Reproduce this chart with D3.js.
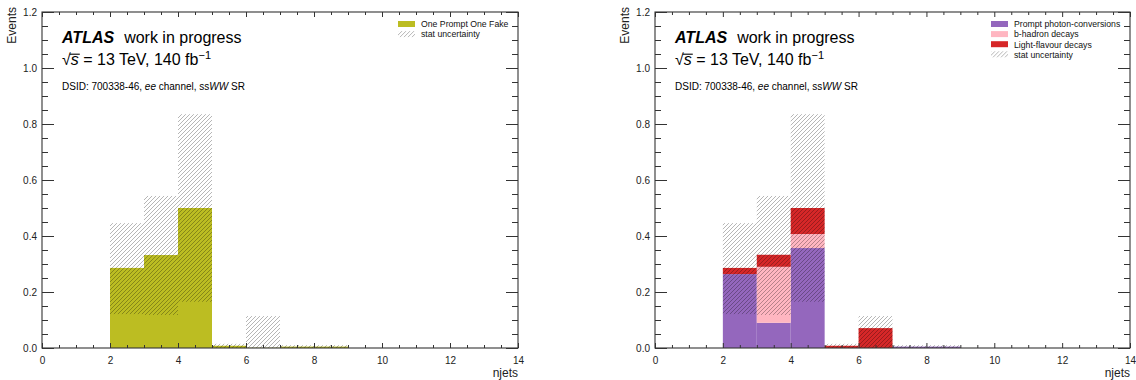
<!DOCTYPE html>
<html>
<head>
<meta charset="utf-8">
<script src="https://cdn.jsdelivr.net/npm/d3@7"></script>
<style>
  body { margin: 0; background: #fff; }
  text { font-family: "Liberation Sans", Arial, Helvetica, sans-serif; }
</style>
</head>
<body>
<svg id="chart" width="1136" height="380"></svg>
<script>
"use strict";

// njets bins (lower edges, width 1)
const binLow = [0, 1, 2, 3, 4, 5, 6, 7, 8, 9, 10, 11, 12, 13];

// left panel: single sample
const onePromptOneFake   = [0, 0, 0.286, 0.332, 0.500, 0.008, 0.001, 0.005, 0.005, 0, 0, 0, 0, 0];

// right panel: stacked truth categories
const promptConversions  = [0, 0, 0.264, 0.090, 0.357, 0, 0, 0.005, 0.005, 0, 0, 0, 0, 0];
const bHadronDecays      = [0, 0, 0, 0.200, 0.050, 0, 0, 0, 0, 0, 0, 0, 0, 0];
const lightFlavourDecays = [0, 0, 0.022, 0.043, 0.093, 0.008, 0.071, 0, 0, 0, 0, 0, 0, 0];

// stat uncertainty band (low / high edge)
const statLow  = [0, 0, 0.121, 0.118, 0.165, 0, 0, 0, 0, 0, 0, 0, 0, 0];
const statHigh = [0, 0, 0.446, 0.543, 0.835, 0.015, 0.114, 0.010, 0.010, 0, 0, 0, 0, 0];

const xMajorTicks = [0, 2, 4, 6, 8, 10, 12, 14];
const yMajorTicks = [0, 0.2, 0.4, 0.6, 0.8, 1.0, 1.2];

const svg = d3.select("#chart");

// hatch pattern for the stat uncertainty ("////")
svg.append("defs").append("pattern")
    .attr("id", "hatch")
    .attr("patternUnits", "userSpaceOnUse")
    .attr("width", 4).attr("height", 4)
  .append("path")
    .attr("d", "M-1,1 L1,-1 M0,4 L4,0 M3,5 L5,3")
    .style("stroke", "rgba(0,0,0,0.32)")
    .style("stroke-width", 0.9);

function drawPanel(left, right, legendItems, legendX, drawBars) {
    const top = 12, bottom = 348;
    let g = svg.append("g");
    let x = d3.scaleLinear().domain([0, 14]).range([left, right]);
    let y = d3.scaleLinear().domain([0, 1.2]).range([bottom, top]);

    drawBars(g, x, y);

    // stat uncertainty band
    g.selectAll(".stat").data(binLow.filter((d, i) => statHigh[i] > 0))
        .enter().append("rect")
        .attr("class", "stat")
        .attr("x", d => x(d))
        .attr("width", d => x(d + 1) - x(d))
        .attr("y", d => y(statHigh[d]))
        .attr("height", d => y(statLow[d]) - y(statHigh[d]))
        .style("fill", "url(#hatch)");

    // minor tick positions
    let xMinor = d3.range(0, 14.01, 0.5).filter(v => v % 2 !== 0);
    let yMinor = d3.range(0, 1.201, 0.05).filter(v => Math.abs(v * 5 - Math.round(v * 5)) > 1e-6);

    // ticks, all pointing inward
    g.append("g").attr("transform", `translate(0,${bottom})`)
        .call(d3.axisBottom(x).tickValues(xMajorTicks).tickSize(-5).tickPadding(9).tickFormat(d3.format("d")));
    g.append("g").attr("transform", `translate(0,${bottom})`)
        .call(d3.axisBottom(x).tickValues(xMinor).tickSize(-3).tickFormat(""));
    g.append("g").attr("transform", `translate(0,${top})`)
        .call(d3.axisTop(x).tickValues(xMajorTicks).tickSize(-5).tickFormat(""));
    g.append("g").attr("transform", `translate(0,${top})`)
        .call(d3.axisTop(x).tickValues(xMinor).tickSize(-3).tickFormat(""));
    g.append("g").attr("transform", `translate(${left},0)`)
        .call(d3.axisLeft(y).tickValues(yMajorTicks).tickSize(-12).tickPadding(5).tickFormat(d3.format(".1f")));
    g.append("g").attr("transform", `translate(${left},0)`)
        .call(d3.axisLeft(y).tickValues(yMinor).tickSize(-6).tickFormat(""));
    g.append("g").attr("transform", `translate(${right},0)`)
        .call(d3.axisRight(y).tickValues(yMajorTicks).tickSize(-12).tickFormat(""));
    g.append("g").attr("transform", `translate(${right},0)`)
        .call(d3.axisRight(y).tickValues(yMinor).tickSize(-6).tickFormat(""));

    g.selectAll(".domain").remove();
    g.selectAll(".tick line").style("stroke", "#333").style("stroke-width", 1);
    g.selectAll(".tick text").style("font-size", "10px").style("fill", "#222")
        .style("font-family", "'Liberation Sans', Arial, sans-serif");

    // frame
    g.append("rect")
        .attr("x", left).attr("y", top)
        .attr("width", right - left).attr("height", bottom - top)
        .style("fill", "none").style("stroke", "#333").style("stroke-width", 1.1);

    // axis titles
    g.append("text")
        .attr("transform", `translate(${left - 26},${top - 5}) rotate(-90)`)
        .style("text-anchor", "end")
        .style("font-size", "12px")
        .style("fill", "#222")
        .text("Events");
    g.append("text")
        .attr("x", right).attr("y", 377)
        .style("text-anchor", "end")
        .style("font-size", "12px")
        .style("fill", "#222")
        .text("njets");

    // ATLAS label
    let tx = left + 20;
    let atlas = g.append("text").attr("x", tx).attr("y", 43).style("font-size", "16px").style("fill", "#000");
    atlas.append("tspan").style("font-weight", "bold").style("font-style", "italic").text("ATLAS");
    atlas.append("tspan").attr("dx", 10).text("work in progress");

    let energy = g.append("text").attr("x", tx).attr("y", 65).style("font-size", "16px").style("fill", "#000");
    energy.append("tspan").text("\u221A");
    energy.append("tspan").style("font-style", "italic").text("s");
    energy.append("tspan").text(" = 13 TeV, 140 fb");
    energy.append("tspan").attr("dy", -6).style("font-size", "11px").text("\u22121");
    // bar of the square root over "s"
    let sBox = energy.node().getExtentOfChar(1);
    let rBox = energy.node().getExtentOfChar(0);
    g.append("line")
        .attr("x1", rBox.x + rBox.width - 1).attr("x2", sBox.x + sBox.width + 1)
        .attr("y1", sBox.y + 3.2).attr("y2", sBox.y + 3.2)
        .style("stroke", "#000").style("stroke-width", 1.1);

    let dsid = g.append("text").attr("x", tx).attr("y", 90).style("font-size", "10px").style("fill", "#000");
    dsid.append("tspan").text("DSID: 700338-46, ");
    dsid.append("tspan").style("font-style", "italic").text("ee");
    dsid.append("tspan").text(" channel, ss");
    dsid.append("tspan").style("font-style", "italic").text("WW");
    dsid.append("tspan").text(" SR");

    // legend
    let leg = g.selectAll(".leg").data(legendItems).enter().append("g")
        .attr("class", "leg")
        .attr("transform", (d, i) => `translate(${legendX},${21 + i * 10.1})`);
    leg.append("rect")
        .attr("x", 0).attr("y", 0).attr("width", 17).attr("height", 6)
        .style("fill", d => d.fill);
    leg.append("text")
        .attr("x", 23).attr("y", 6.3)
        .style("font-size", "8.7px")
        .style("fill", "#111")
        .text(d => d.label);
}

// left panel
drawPanel(42, 518,
    [{label: "One Prompt One Fake", fill: "#bcbd22"}, {label: "stat uncertainty", fill: "url(#hatch)"}],
    398,
    (g, x, y) => {
        g.selectAll(".opof").data(binLow.filter((d, i) => onePromptOneFake[i] > 0))
            .enter().append("rect")
            .attr("class", "opof")
            .attr("x", d => x(d))
            .attr("width", d => x(d + 1) - x(d))
            .attr("y", d => y(onePromptOneFake[d]))
            .attr("height", d => y(0) - y(onePromptOneFake[d]))
            .style("fill", "#bcbd22");
    });

// right panel
const stackKeys = ["conv", "bhad", "light"];
const stackColors = {conv: "#9467bd", bhad: "#ffb6c1", light: "#d62728"};
const stackRows = binLow.map((b, i) => ({bin: b, conv: promptConversions[i], bhad: bHadronDecays[i], light: lightFlavourDecays[i]}));

drawPanel(655, 1130,
    [{label: "Prompt photon-conversions", fill: "#9467bd"},
     {label: "b-hadron decays", fill: "#ffb6c1"},
     {label: "Light-flavour decays", fill: "#d62728"},
     {label: "stat uncertainty", fill: "url(#hatch)"}],
    991,
    (g, x, y) => {
        let series = d3.stack().keys(stackKeys)(stackRows);
        g.selectAll(".layer").data(series).enter().append("g")
            .attr("class", "layer")
            .style("fill", d => stackColors[d.key])
          .selectAll("rect").data(d => d.filter(p => p[1] - p[0] > 0))
            .enter().append("rect")
            .attr("x", p => x(p.data.bin))
            .attr("width", p => x(p.data.bin + 1) - x(p.data.bin))
            .attr("y", p => y(p[1]))
            .attr("height", p => y(p[0]) - y(p[1]));
    });
</script>
</body>
</html>
